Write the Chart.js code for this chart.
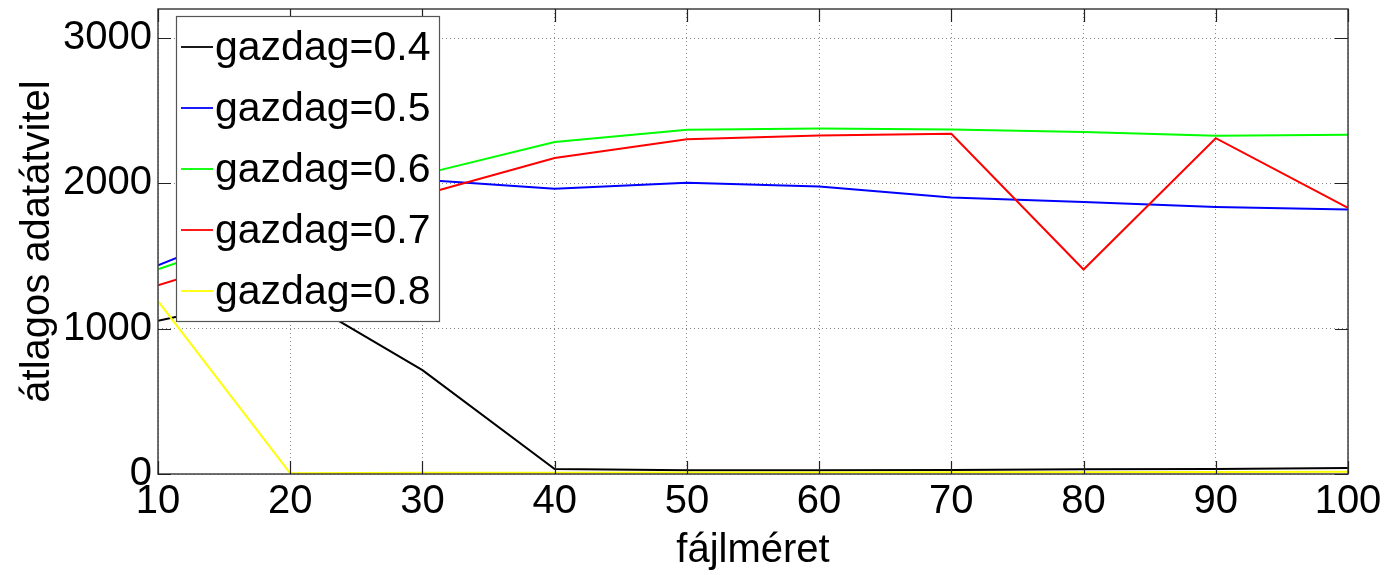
<!DOCTYPE html>
<html>
<head>
<meta charset="utf-8">
<script src="https://cdn.jsdelivr.net/npm/chart.js@4.4.0/dist/chart.umd.min.js"></script>
<style>
    html, body { margin: 0; padding: 0; background: #fff; }
    #wrap { width: 1387px; height: 575px; }
</style>
</head>
<body>
<div id="wrap"><canvas id="chart" width="1387" height="575"></canvas></div>
<script>
// fájlméret values (x axis)
const fileSizes = [10, 20, 30, 40, 50, 60, 70, 80, 90, 100];

// average throughput per "gazdag" level
const gazdag04 = [1055, 1250, 715, 34, 25, 25, 28, 32, 35, 42];
const gazdag05 = [1436, 1800, 2025, 1963, 2005, 1979, 1902, 1872, 1837, 1821];
const gazdag06 = [1409, 1720, 2062, 2284, 2369, 2378, 2371, 2353, 2328, 2335];
const gazdag07 = [1299, 1580, 1922, 2174, 2304, 2330, 2341, 1407, 2311, 1832];
const gazdag08 = [1189, 5, 8, 8, 10, 10, 12, 12, 14, 15];

const seriesLabels = ['gazdag=0.4', 'gazdag=0.5', 'gazdag=0.6', 'gazdag=0.7', 'gazdag=0.8'];
const seriesColors = ['#000000', '#0000ff', '#00ff00', '#ff0000', '#ffff00'];

const xTicks = [10, 20, 30, 40, 50, 60, 70, 80, 90, 100];
const yTicks = [0, 1000, 2000, 3000];

const FONT = '"Liberation Sans", Arial, sans-serif';

function toPoints(values) {
    return fileSizes.map((x, i) => ({ x: x, y: values[i] }));
}

// Box, inward tick marks and legend drawn on top of the plot
const matlabAxes = {
    id: 'matlabAxes',
    afterDatasetsDraw(chart) {
        const { ctx, chartArea: a, scales } = chart;
        ctx.save();
        ctx.strokeStyle = '#404040';
        ctx.lineWidth = 1.5;
        ctx.strokeRect(a.left, a.top, a.right - a.left, a.bottom - a.top);

        // inward ticks
        ctx.strokeStyle = '#222';
        ctx.lineWidth = 1.2;
        const tl = 13;
        xTicks.forEach(v => {
            const px = Math.round(scales.x.getPixelForValue(v)) + 0.5;
            ctx.beginPath();
            ctx.moveTo(px, a.bottom); ctx.lineTo(px, a.bottom - tl);
            ctx.moveTo(px, a.top); ctx.lineTo(px, a.top + tl);
            ctx.stroke();
        });
        yTicks.forEach(v => {
            const py = Math.round(scales.y.getPixelForValue(v)) + 0.5;
            ctx.beginPath();
            ctx.moveTo(a.left, py); ctx.lineTo(a.left + tl, py);
            ctx.moveTo(a.right, py); ctx.lineTo(a.right - tl, py);
            ctx.stroke();
        });

        // legend
        const lx = a.left + 18, ly = a.top + 7, lw = 263, lh = 305, row = 61;
        ctx.fillStyle = '#fff';
        ctx.fillRect(lx, ly, lw, lh);
        ctx.strokeStyle = '#555';
        ctx.lineWidth = 1.2;
        ctx.strokeRect(lx + 0.5, ly + 0.5, lw, lh);
        ctx.font = '41px ' + FONT;
        ctx.textBaseline = 'middle';
        ctx.textAlign = 'left';
        chart.data.datasets.forEach((ds, i) => {
            const cy = ly + 31 + i * row;
            ctx.strokeStyle = ds.borderColor;
            ctx.lineWidth = 1.8;
            ctx.beginPath();
            ctx.moveTo(lx + 5, cy); ctx.lineTo(lx + 37, cy);
            ctx.stroke();
            ctx.fillStyle = '#000';
            ctx.fillText(ds.label, lx + 39, cy + 2);
        });
        ctx.restore();
    }
};

const datasets = [gazdag04, gazdag05, gazdag06, gazdag07, gazdag08].map((vals, i) => ({
    label: seriesLabels[i],
    data: toPoints(vals),
    borderColor: seriesColors[i],
    backgroundColor: seriesColors[i],
    borderWidth: 2,
    pointRadius: 0,
    tension: 0,
    fill: false,
    order: 5 - i
}));

new Chart(document.getElementById('chart').getContext('2d'), {
    type: 'line',
    data: { datasets: datasets },
    options: {
        responsive: false,
        animation: false,
        events: [],
        layout: { padding: { left: 0, right: 39, top: 9, bottom: 0 } },
        plugins: {
            legend: { display: false },
            tooltip: { enabled: false }
        },
        scales: {
            x: {
                type: 'linear',
                min: 10,
                max: 100,
                afterBuildTicks: s => { s.ticks = xTicks.map(v => ({ value: v })); },
                afterFit: s => { s.height = 101; s.paddingLeft = 0; s.paddingRight = 0; },
                border: { display: false, dash: [1, 3] },
                grid: {
                    color: '#888',
                    lineWidth: 1,
                    drawTicks: false
                },
                ticks: {
                    color: '#000',
                    font: { family: FONT, size: 40 },
                    padding: 4,
                    maxRotation: 0,
                    autoSkip: false,
                    callback: v => String(v)
                },
                title: {
                    display: true,
                    text: 'fájlméret',
                    color: '#000',
                    font: { family: FONT, size: 40 },
                    padding: { top: 0, bottom: 0 }
                }
            },
            y: {
                type: 'linear',
                min: 0,
                max: 3200,
                afterBuildTicks: s => { s.ticks = yTicks.map(v => ({ value: v })); },
                afterFit: s => { s.width = 158; s.paddingTop = 0; s.paddingBottom = 0; },
                border: { display: false, dash: [1, 3] },
                grid: {
                    color: '#888',
                    lineWidth: 1,
                    drawTicks: false
                },
                ticks: {
                    color: '#000',
                    font: { family: FONT, size: 40 },
                    padding: 6,
                    callback: v => String(v)
                },
                title: {
                    display: true,
                    text: 'átlagos adatátvitel',
                    color: '#000',
                    font: { family: FONT, size: 40 },
                    padding: { top: 14, bottom: 0 }
                }
            }
        }
    },
    plugins: [matlabAxes]
});
</script>
</body>
</html>
